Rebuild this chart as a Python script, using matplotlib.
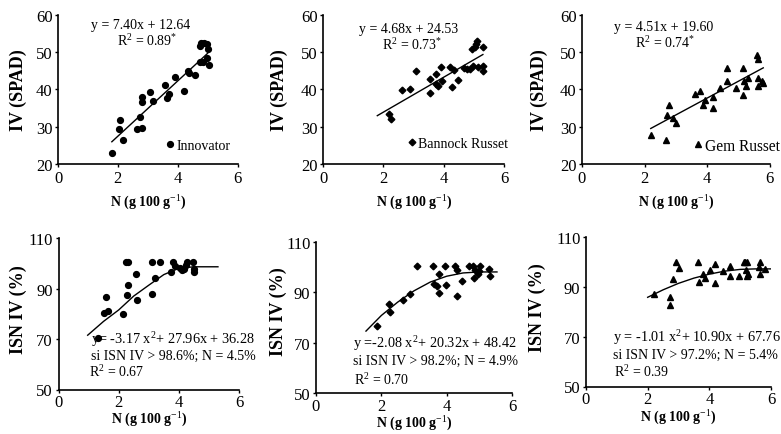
import matplotlib
matplotlib.use("Agg")
import matplotlib.pyplot as plt

plt.rcParams['font.family'] = ['Liberation Serif', 'DejaVu Serif']
plt.rcParams['mathtext.fontset'] = 'custom'
plt.rcParams['mathtext.rm'] = 'Liberation Serif'
plt.rcParams['mathtext.it'] = 'Liberation Serif:italic'
plt.rcParams['mathtext.bf'] = 'Liberation Serif:bold'

# ---- data ----
# top row: IV (SPAD) vs N
inn_x = [1.82, 2.04, 2.07, 2.16, 2.65, 2.82, 2.74, 2.80, 2.82, 3.07, 3.16, 3.59, 3.63, 3.70,
         3.91, 4.20, 4.33, 4.37, 4.58, 4.73, 4.84, 4.73, 4.78, 4.88, 4.97, 4.99, 5.03, 5.04]
inn_y = [22.9, 29.4, 31.7, 26.4, 29.4, 29.6, 32.5, 36.5, 37.9, 39.4, 37.0, 41.2, 37.7, 38.8,
         43.2, 39.5, 45.0, 44.4, 43.8, 47.4, 47.4, 51.7, 52.3, 52.3, 48.3, 52.1, 50.8, 46.6]
inn_fit_x = [1.80, 5.00]
inn_fit_y = [25.96, 49.64]

ban_x = [2.20, 2.24, 2.63, 2.89, 3.09, 3.55, 3.55, 3.75, 3.73, 3.81, 3.92, 3.95, 4.22, 4.27,
         4.33, 4.49, 4.77, 4.87, 4.98, 4.93, 5.04, 5.08, 5.09, 5.15, 5.30, 5.31, 5.30, 4.66]
ban_y = [33.3, 32.1, 39.9, 40.1, 45.0, 42.9, 38.9, 44.2, 41.4, 40.8, 45.9, 42.3, 45.9, 40.5,
         45.3, 42.5, 45.4, 45.4, 46.3, 50.8, 51.4, 52.1, 53.0, 45.9, 51.3, 46.3, 45.0, 45.6]
ban_fit_x = [1.80, 5.30]
ban_fit_y = [32.95, 49.33]

gem_x = [2.20, 2.68, 2.71, 2.79, 2.91, 3.01, 3.62, 3.76, 3.86, 3.94, 4.19, 4.18, 4.40, 4.64,
         4.64, 4.94, 5.15, 5.15, 5.17, 5.26, 5.30, 5.60, 5.62, 5.62, 5.62, 5.76, 5.79]
gem_y = [27.7, 26.4, 33.2, 35.7, 32.3, 30.9, 38.8, 39.5, 35.9, 37.2, 37.9, 35.0, 40.4, 42.3,
         45.8, 40.4, 45.8, 38.6, 42.2, 41.0, 43.1, 49.1, 48.0, 43.1, 40.8, 42.2, 41.7]
gem_fit_x = [2.20, 5.80]
gem_fit_y = [29.52, 45.76]

# bottom row: ISN IV (%) vs N
inn2_x = [1.30, 1.57, 1.52, 1.66, 2.16, 2.23, 2.30, 2.29, 2.31, 2.57, 2.61, 3.10, 3.12, 3.21,
          3.38, 3.73, 3.82, 3.87, 4.04, 4.10, 4.17, 4.24, 4.26, 4.46, 4.49, 4.49]
inn2_y = [70.4, 86.8, 80.4, 81.1, 80.0, 100.3, 100.3, 87.5, 91.3, 95.7, 85.6, 100.3, 87.7, 94.1,
          100.3, 96.7, 100.3, 99.0, 98.1, 97.3, 97.7, 99.4, 100.3, 100.3, 97.7, 96.7]
inn2_fit_x = [0.97, 1.5, 2.0, 2.5, 3.0, 3.5, 4.0, 4.5, 5.3]
inn2_fit_y = [71.5, 77.0, 81.5, 87.0, 91.3, 95.5, 98.0, 98.6, 98.6]

ban2_x = [1.86, 2.22, 2.25, 2.66, 2.88, 3.09, 3.57, 3.60, 3.70, 3.76, 3.78, 3.96, 3.98, 4.24,
          4.31, 4.31, 4.48, 4.67, 4.80, 4.83, 4.88, 4.95, 4.98, 5.03, 5.29, 5.34]
ban2_y = [76.8, 85.2, 82.1, 87.1, 89.4, 100.3, 100.3, 93.4, 92.4, 97.4, 89.7, 100.3, 92.8, 100.3,
          99.0, 88.6, 94.4, 100.3, 100.3, 95.8, 98.7, 97.1, 98.5, 100.3, 99.4, 96.3]
ban2_fit_x = [1.53, 2.0, 2.5, 3.0, 3.5, 4.0, 4.5, 5.0, 5.54]
ban2_fit_y = [74.6, 80.8, 86.1, 90.6, 94.1, 96.4, 97.7, 98.1, 98.1]

gem2_x = [2.21, 2.71, 2.71, 2.82, 2.93, 3.01, 3.63, 3.65, 3.81, 3.85, 4.01, 4.19, 4.19, 4.43,
          4.66, 4.68, 4.97, 5.11, 5.17, 5.22, 5.20, 5.22, 5.25, 5.63, 5.61, 5.63, 5.82]
gem2_y = [87.2, 85.8, 82.9, 93.0, 100.0, 97.5, 100.0, 91.9, 95.0, 93.6, 96.8, 99.0, 91.5, 96.3,
          98.2, 94.2, 94.2, 100.0, 100.0, 100.0, 96.7, 94.2, 95.0, 100.0, 97.9, 95.0, 97.2]
gem2_fit_x = [2.0, 2.5, 3.0, 3.5, 4.0, 4.5, 5.0, 5.5, 6.0]
gem2_fit_y = [85.8, 88.8, 91.4, 93.5, 95.1, 96.3, 97.0, 97.2, 97.2]

top_yticks = [20, 30, 40, 50, 60]
bot_yticks = [50, 70, 90, 110]
xticks = [0, 2, 4, 6]

W, H = 781, 435


def box(l, r, t, b):
    return [l / W, 1 - b / H, (r - l) / W, (b - t) / H]


def px(x, y):
    return x / W, 1 - y / H


fig = plt.figure(figsize=(W / 100, H / 100), dpi=100)

panels = [
    # box, x, y, fit x, fit y, marker, size, legend, legend pos, legend size
    (box(58, 237.5, 15.7, 165), inn_x, inn_y, inn_fit_x, inn_fit_y, 'o', 4.2, 'Innovator', (165, 146.7), 10),
    (box(323, 504, 15.7, 165), ban_x, ban_y, ban_fit_x, ban_fit_y, 'D', 3.4, 'Bannock Russet', (407, 144), 10),
    (box(582, 769.5, 15.7, 165), gem_x, gem_y, gem_fit_x, gem_fit_y, '^', 4.6, 'Gem Russet', (693, 146.7), 11.2),
    (box(58.5, 239, 239, 390.5), inn2_x, inn2_y, inn2_fit_x, inn2_fit_y, 'o', 4.2, None, None, 10),
    (box(316, 512, 243, 394), ban2_x, ban2_y, ban2_fit_x, ban2_fit_y, 'D', 3.4, None, None, 10),
    (box(586, 771, 238, 387.5), gem2_x, gem2_y, gem2_fit_x, gem2_fit_y, '^', 4.6, None, None, 10),
]

for i, (b, x, y, fx, fy, mk, ms, lab, lpos, lsize) in enumerate(panels):
    ax = fig.add_axes(b)
    ax.plot(x, y, mk, color='black', markersize=ms, linestyle='none', label=lab)
    ax.plot(fx, fy, '-', color='black', linewidth=1.0)
    ax.set_xlim(0, 6)
    ax.set_xticks(xticks)
    if i < 3:
        ax.set_ylim(20, 60)
        ax.set_yticks(top_yticks)
    else:
        ax.set_ylim(50, 110)
        ax.set_yticks(bot_yticks)
    ax.spines['top'].set_visible(False)
    ax.spines['right'].set_visible(False)
    ax.spines['left'].set_linewidth(1.2)
    ax.spines['bottom'].set_linewidth(1.2)
    ax.tick_params(direction='out', length=2.5, width=1.0, labelsize=12, pad=1.5)
    ax.tick_params(axis='x', pad=2.0 if i < 3 else 0.8)
    ax.patch.set_alpha(0)
    if lab:
        ax.legend(loc='center left', bbox_to_anchor=px(*lpos), bbox_transform=fig.transFigure,
                  frameon=False, fontsize=lsize, handlelength=0.7, handletextpad=0.1,
                  borderpad=0, borderaxespad=0, numpoints=1)

# axis labels
ylab_top = 'IV (SPAD)'
ylab_bot = 'ISN IV (%)'
xlab = 'N (g 100 g$^{-1}$)'
for xx, yy in [(18.3, 90), (279, 90), (539, 90)]:
    fig.text(*px(xx, yy), ylab_top, rotation=90, ha='center', va='center', fontsize=13, fontweight='bold')
for xx, yy in [(18.3, 310), (278.3, 312), (537.3, 308)]:
    fig.text(*px(xx, yy), ylab_bot, rotation=90, ha='center', va='center', fontsize=13, fontweight='bold')
for xx, yy in [(148, 202.5), (414, 202.5), (676, 203), (149, 419.5), (414, 424), (678, 418)]:
    fig.text(*px(xx, yy), xlab, ha='center', va='center', fontsize=10, fontweight='bold')

# equations
fig.text(*px(140.7, 25), 'y = 7.40x + 12.64', ha='center', va='center', fontsize=10)
fig.text(*px(146.7, 40.7), 'R$^2$ = 0.89$^{*}$', ha='center', va='center', fontsize=10)
fig.text(*px(408.3, 29.3), 'y = 4.68x + 24.53', ha='center', va='center', fontsize=10)
fig.text(*px(411.7, 45), 'R$^2$ = 0.73$^{*}$', ha='center', va='center', fontsize=10)
fig.text(*px(663.3, 27.3), 'y = 4.51x + 19.60', ha='center', va='center', fontsize=10)
fig.text(*px(665, 43.3), 'R$^2$ = 0.74$^{*}$', ha='center', va='center', fontsize=10)

fig.text(*px(90.7, 340), 'y= -3.17 x$^2$+ 27.96x + 36.28', ha='left', va='center', fontsize=10.3)
fig.text(*px(90.7, 356), 'si ISN IV > 98.6%; N = 4.5%', ha='left', va='center', fontsize=10)
fig.text(*px(89.3, 371.7), 'R$^2$ = 0.67', ha='left', va='center', fontsize=10)
fig.text(*px(352.7, 343.3), 'y =-2.08 x$^2$+ 20.32x + 48.42', ha='left', va='center', fontsize=10.3)
fig.text(*px(352.7, 361.7), 'si ISN IV > 98.2%; N = 4.9%', ha='left', va='center', fontsize=10)
fig.text(*px(354.3, 380), 'R$^2$ = 0.70', ha='left', va='center', fontsize=10)
fig.text(*px(612.7, 337.3), 'y = -1.01 x$^2$+ 10.90x + 67.76', ha='left', va='center', fontsize=10.3)
fig.text(*px(612.7, 355), 'si ISN IV > 97.2%; N = 5.4%', ha='left', va='center', fontsize=10)
fig.text(*px(614.3, 371.7), 'R$^2$ = 0.39', ha='left', va='center', fontsize=10)

fig.savefig('out.png', dpi=100)
